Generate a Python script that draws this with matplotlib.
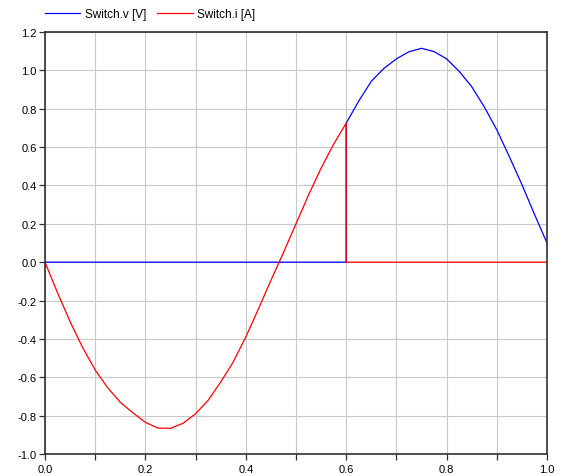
import matplotlib
matplotlib.use("Agg")
import matplotlib.pyplot as plt
from matplotlib.ticker import MultipleLocator, FormatStrFormatter

plt.rcParams['font.family'] = ['Liberation Sans', 'DejaVu Sans']

# time points (s); 0.6 appears twice for the switching instant
time = [0.0, 0.025, 0.05, 0.075, 0.1, 0.125, 0.15, 0.175, 0.2, 0.225,
        0.25, 0.275, 0.3, 0.325, 0.35, 0.375, 0.4, 0.425, 0.45, 0.475,
        0.5, 0.525, 0.55, 0.575, 0.6, 0.6, 0.625, 0.65, 0.675, 0.7,
        0.725, 0.75, 0.775, 0.8, 0.825, 0.85, 0.875, 0.9, 0.925, 0.95,
        0.975, 1.0]

switch_v = [0, 0, 0, 0, 0, 0, 0, 0, 0, 0,
            0, 0, 0, 0, 0, 0, 0, 0, 0, 0,
            0, 0, 0, 0, 0, 0.725, 0.84, 0.943, 1.01, 1.06,
            1.097, 1.115, 1.098, 1.06, 0.995, 0.915, 0.81, 0.69, 0.55, 0.405,
            0.25, 0.10]

switch_i = [0.0, -0.16, -0.31, -0.445, -0.562, -0.655, -0.73, -0.785, -0.835, -0.865,
            -0.866, -0.84, -0.79, -0.72, -0.625, -0.52, -0.39, -0.245, -0.095, 0.05,
            0.20, 0.35, 0.49, 0.615, 0.725, 0, 0, 0, 0, 0,
            0, 0, 0, 0, 0, 0, 0, 0, 0, 0,
            0, 0]

labels = ["Switch.v [V]", "Switch.i [A]"]
colors = ["#0000ff", "#ff0000"]

fig = plt.figure(figsize=(5.61, 4.77), dpi=100)
ax = fig.add_axes([45/561, 22/477, 502/561, 422/477])

ax.plot(time, switch_v, color=colors[0], lw=0.9, label=labels[0])
ax.plot(time, switch_i, color=colors[1], lw=0.9, label=labels[1])

ax.set_xlim(0, 1.0)
ax.set_ylim(-1.0, 1.2)
ax.xaxis.set_major_locator(MultipleLocator(0.2))
ax.xaxis.set_minor_locator(MultipleLocator(0.1))
ax.yaxis.set_major_locator(MultipleLocator(0.2))
ax.xaxis.set_major_formatter(FormatStrFormatter('%.1f'))
ax.yaxis.set_major_formatter(FormatStrFormatter('%.1f'))

ax.grid(True, which='both', color='#c8c8c8', lw=0.8)
ax.set_axisbelow(True)
ax.tick_params(axis='both', which='both', direction='out', length=4,
               width=0.9, color='#303030', labelsize=8, pad=2)
ax.tick_params(axis='x', which='major', pad=3)
for s in ax.spines.values():
    s.set_color('#303030')
    s.set_linewidth(1.2)

ax.legend(loc='center left', bbox_to_anchor=(0.0, 1 + 18/422), ncol=2, frameon=False,
          fontsize=8.5, handlelength=3.0, handletextpad=0.4, columnspacing=0.9,
          borderaxespad=0.0, borderpad=0.0)

fig.savefig("out.png", dpi=100)
